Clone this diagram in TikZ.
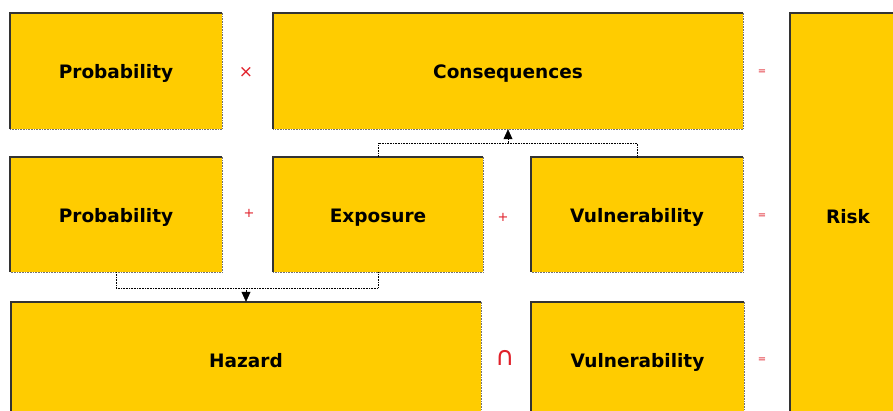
\documentclass[tikz,border=0pt]{standalone}
\usepackage{fontspec}
\setmainfont{DejaVu Sans}
\usetikzlibrary{arrows.meta}
\definecolor{boxyellow}{HTML}{FFCC00}
\definecolor{opred}{HTML}{E0202A}
\newcommand{\clrbox}{boxyellow}
\newcommand{\clrop}{opred}

\begin{document}
\begin{tikzpicture}[x=1pt, y=-1pt,
    block/.style={fill=\clrbox, inner sep=0pt, text height=15pt, text depth=0pt,
        font=\bfseries\fontsize{18.5}{20}\selectfont},
    op/.style={text=\clrop, inner sep=0pt},
    link/.style={densely dotted, line width=0.6pt},
    tip/.style={link, -{Triangle[width=9pt, length=10pt]}}]

    \useasboundingbox (0,0) rectangle (893,410);
    \clip (0,0) rectangle (893,410);

    % first row
    \node[block, minimum width=212, minimum height=116] (prob1) at (116,71) {Probability};
    \node[block, minimum width=470, minimum height=116] (cons) at (508,71) {Consequences};
    \node[block, minimum width=116, minimum height=406] (risk) at (848,216) {Risk};

    % second row
    \node[block, minimum width=212, minimum height=115] (prob2) at (116,214.5) {Probability};
    \node[block, minimum width=210, minimum height=115] (expo) at (378,214.5) {Exposure};
    \node[block, minimum width=212, minimum height=115] (vuln1) at (637,214.5) {Vulnerability};

    % third row
    \node[block, minimum width=470, minimum height=116] (hazard) at (246,360) {Hazard};
    \node[block, minimum width=213, minimum height=116] (vuln2) at (637.5,360) {Vulnerability};

    \foreach \n in {prob1,cons,risk,prob2,expo,vuln1,hazard,vuln2} {
        \draw[line width=1.8pt, black!80] (\n.south west) |- (\n.north east);
        \draw[densely dotted, line width=0.6pt, black!55] (\n.north east) |- (\n.south west);
    }

    % operators
    \node[op, font=\fontsize{17}{17}\selectfont] (times) at (246,72) {×};
    \node[op, font=\fontsize{10}{10}\selectfont] (eq1) at (762,72) {=};
    \node[op, font=\fontsize{13}{13}\selectfont] (plus1) at (249,213) {+};
    \node[op, font=\fontsize{13}{13}\selectfont] (plus2) at (503,217) {+};
    \node[op, font=\fontsize{10}{10}\selectfont] (eq2) at (762,216) {=};
    \node[op, font=\fontsize{26}{26}\selectfont] (cap) at (505,358) {∩};
    \node[op, font=\fontsize{10}{10}\selectfont] (eq3) at (762,360) {=};

    % connectors
    \coordinate (join1) at (246,288);
    \coordinate (join2) at (508,143);
    \draw[link] (prob2.south) |- (join1) -| (expo.south);
    \draw[tip] (join1) -- (hazard.north);
    \draw[link] (expo.north) |- (join2) -| (vuln1.north);
    \draw[tip] (join2) -- (cons.south);

\end{tikzpicture}
\end{document}
